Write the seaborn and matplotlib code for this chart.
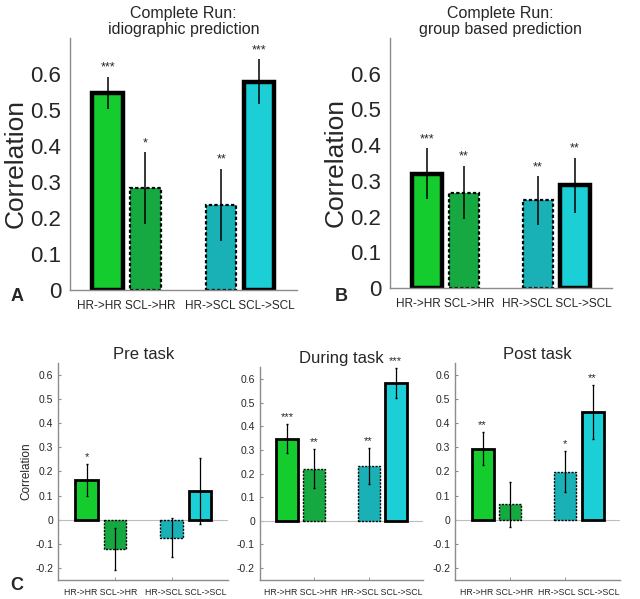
import numpy as np
import pandas as pd
import matplotlib
matplotlib.use("Agg")
import matplotlib.pyplot as plt
import seaborn as sns

sns.set_style("white")
plt.rcParams["font.family"] = ["Liberation Sans", "DejaVu Sans"]

# -------------------------------------------------
# data
# -------------------------------------------------
categories = ["HR->HR", "SCL->HR", "HR->SCL", "SCL->SCL"]
group_labels = ["HR->HR SCL->HR", "HR->SCL SCL->SCL"]

idio_r = [0.547, 0.282, 0.237, 0.578]
idio_err = [0.045, 0.100, 0.100, 0.062]
idio_sig = ["***", "*", "**", "***"]

group_r = [0.320, 0.267, 0.245, 0.287]
group_err = [0.072, 0.075, 0.068, 0.078]
group_sig = ["***", "**", "**", "**"]

pre_r = [0.163, -0.123, -0.075, 0.118]
pre_err = [0.067, 0.088, 0.080, 0.137]
pre_sig = ["*", "", "", ""]

during_r = [0.348, 0.220, 0.232, 0.583]
during_err = [0.062, 0.082, 0.075, 0.065]
during_sig = ["***", "**", "**", "***"]

post_r = [0.295, 0.063, 0.198, 0.448]
post_err = [0.070, 0.093, 0.085, 0.112]
post_sig = ["**", "", "*", "**"]

colors = {"HR->HR": "#14cc2e", "SCL->HR": "#16a942",
          "HR->SCL": "#19b1b5", "SCL->SCL": "#1ccfd7"}
# solid edge for the "own" signal, dotted edge for cross prediction
dashed = {"HR->HR": False, "SCL->HR": True, "HR->SCL": True, "SCL->SCL": False}
xpos = [1, 2, 4, 5]


def draw_panel(ax, r, err, sig, title, big):
    df = pd.DataFrame({"pos": xpos, "r": r, "err": err, "cat": categories})
    sns.barplot(data=df, x="pos", y="r", hue="cat", palette=colors,
                native_scale=True, dodge=False, errorbar=None,
                width=0.8, saturation=1, legend=False, ax=ax)

    lw_solid = 3.2 if big else 2.0
    lw_dot = 1.6 if big else 1.0
    for p in ax.patches:
        cx = p.get_x() + p.get_width() / 2
        cat = categories[int(np.argmin([abs(cx - x) for x in xpos]))]
        p.set_edgecolor("black")
        if dashed[cat]:
            p.set_linewidth(lw_dot)
            p.set_linestyle((0, (1.5, 1)))
        else:
            p.set_linewidth(lw_solid)
        p.set_zorder(2)

    ax.errorbar(df["pos"], df["r"], yerr=df["err"], fmt="none",
                ecolor="black", elinewidth=1.1 if big else 0.9,
                capsize=0 if big else 1, zorder=3)

    for x, v, e, s in zip(df["pos"], df["r"], df["err"], sig):
        if s:
            ax.text(x, v + e + 0.008, s, ha="center", va="bottom",
                    fontsize=9 if big else 8)

    ax.set_xlim(0, 6)
    ax.set_xticks([1.5, 4.5])
    ax.set_xticklabels(group_labels)
    ax.set_xlabel("")
    sns.despine(ax=ax)
    for side in ["left", "bottom"]:
        ax.spines[side].set_color("#8c8c8c")
        ax.spines[side].set_linewidth(1.0)

    if big:
        ax.set_ylim(0, 0.7)
        ax.set_yticks(np.arange(0, 0.61, 0.1))
        ax.set_yticklabels(["0", "0.1", "0.2", "0.3", "0.4", "0.5", "0.6"])
        ax.tick_params(axis="y", labelsize=16, length=0, pad=6)
        ax.tick_params(axis="x", labelsize=8.5, length=0, pad=7)
        ax.set_ylabel("Correlation", fontsize=19, labelpad=2)
        ax.set_title(title, fontsize=11.5, linespacing=1.05, pad=3)
    else:
        ax.set_ylim(-0.25, 0.65)
        ticks = np.round(np.arange(-0.2, 0.61, 0.1), 1)
        ax.set_yticks(ticks)
        ax.set_yticklabels(["0" if t == 0 else f"{t:.1f}" for t in ticks])
        ax.axhline(0, color="#bdbdbd", lw=0.8, zorder=1)
        ax.tick_params(axis="y", labelsize=7.5, direction="in", length=2,
                       color="#8c8c8c", left=True)
        ax.tick_params(axis="x", labelsize=6.3, length=0, pad=6)
        ax.set_xticks([2, 4], minor=True)
        ax.tick_params(axis="x", which="minor", direction="in", length=2,
                       color="#8c8c8c", bottom=True)
        ax.set_ylabel("")
        ax.set_title(title, fontsize=12, pad=3)


fig = plt.figure(figsize=(6.4, 5.99), dpi=100)

ax_a = fig.add_axes([0.109, 0.516, 0.355, 0.421])
ax_b = fig.add_axes([0.609, 0.519, 0.347, 0.418])
ax_pre = fig.add_axes([0.091, 0.032, 0.266, 0.362])
ax_dur = fig.add_axes([0.406, 0.032, 0.255, 0.355])
ax_post = fig.add_axes([0.711, 0.032, 0.258, 0.362])

draw_panel(ax_a, idio_r, idio_err, idio_sig,
           "Complete Run:\nidiographic prediction", True)
draw_panel(ax_b, group_r, group_err, group_sig,
           "Complete Run:\ngroup based prediction", True)
draw_panel(ax_pre, pre_r, pre_err, pre_sig, "Pre task", False)
draw_panel(ax_dur, during_r, during_err, during_sig, "During task", False)
draw_panel(ax_post, post_r, post_err, post_sig, "Post task", False)

ax_pre.set_ylabel("Correlation", fontsize=8.5, labelpad=2)

fig.text(0.016, 0.505, "A", fontsize=13, fontweight="bold", va="center")
fig.text(0.523, 0.505, "B", fontsize=13, fontweight="bold", va="center")
fig.text(0.016, 0.023, "C", fontsize=13, fontweight="bold", va="center")

fig.savefig("out.png", dpi=100)
